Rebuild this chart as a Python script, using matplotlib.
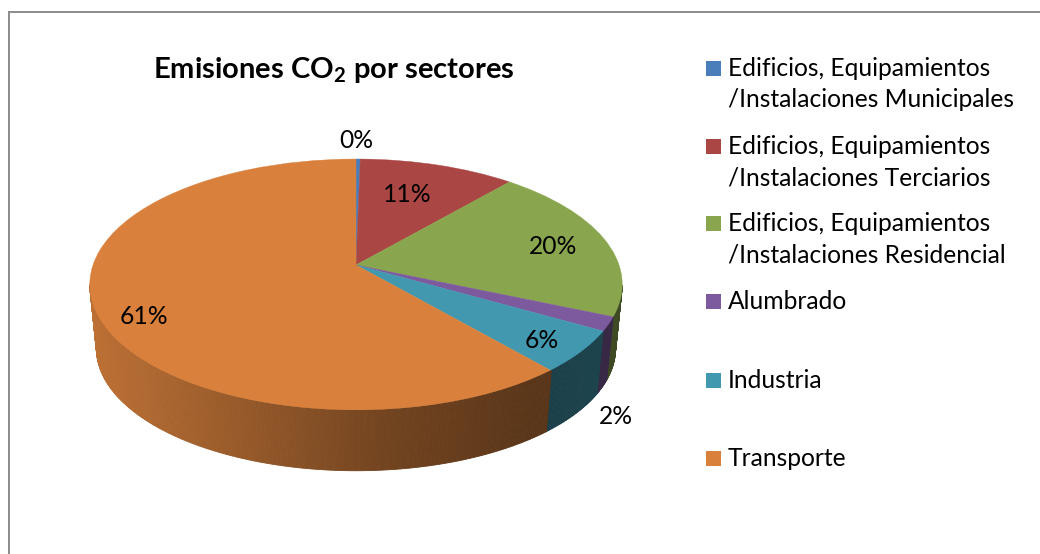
import numpy as np
import matplotlib
matplotlib.use("Agg")
import matplotlib.pyplot as plt
from matplotlib.path import Path
from matplotlib.patches import PathPatch, Rectangle
from matplotlib.collections import PolyCollection

plt.rcParams['font.family'] = ['Lato', 'DejaVu Sans']
plt.rcParams['mathtext.fontset'] = 'custom'
plt.rcParams['mathtext.rm'] = 'Lato'
plt.rcParams['mathtext.bf'] = 'Lato:bold'

sectors = ["Edificios, Equipamientos\n/Instalaciones Municipales",
           "Edificios, Equipamientos\n/Instalaciones Terciarios",
           "Edificios, Equipamientos\n/Instalaciones Residencial",
           "Alumbrado", "Industria", "Transporte"]
shares = [0.3, 11.0, 20.2, 1.8, 5.4, 61.3]
share_labels = ["0%", "11%", "20%", "2%", "6%", "61%"]
colors = ["#4A7EBB", "#AA4643", "#89A54E", "#7D5A9E", "#4198AF", "#D9813C"]

# perspective of the pie, in pixels
cx, cy = 356, 265
rx, ry, k = 263, 122.4, 0.155
depth = 64.5
shrink = 0.975

label_pos = [(356, 140), (407, 194), (553, 247), (616, 417), (542, 340), (144, 316)]
legend_y = [84, 162, 239.5, 301.5, 380.5, 458.5]


def project(u, v, drop=0.0, s=1.0):
    w = 1 + k * v
    return cx + s * rx * u / w, cy + drop - s * ry * v / w


def side_shade(x):
    return np.interp(x, [90, 380, 540, 620], [0.87, 0.53, 0.41, 0.45])


fig = plt.figure(figsize=(10.4, 5.54), dpi=100)
ax = fig.add_axes([0, 0, 1, 1])
wedges, _ = ax.pie(shares, colors=colors, startangle=90, counterclock=False)
ax.set_aspect('auto')
ax.set_xlim(0, 1040)
ax.set_ylim(554, 0)
ax.axis('off')

# chart frame, cut off by the picture on the right and at the bottom
ax.plot([9, 9, 1040], [554, 11.5, 11.5], color="#8A8A8A", lw=1.4, solid_joinstyle='miter')

for w, c in zip(wedges, colors):
    # side wall first, only the part facing us
    t = np.radians(np.arange(w.theta1, w.theta2 + 0.5, 0.5))
    t = t[np.sin(t) < -k]
    if len(t) > 1:
        x1, y1 = project(np.cos(t), np.sin(t))
        x2, y2 = project(np.cos(t), np.sin(t), depth, shrink)
        quads = [[(x1[i], y1[i]), (x1[i + 1], y1[i + 1]), (x2[i + 1], y2[i + 1]), (x2[i], y2[i])]
                 for i in range(len(t) - 1)]
        base = np.array(matplotlib.colors.to_rgb(c))
        cols = [tuple(base * side_shade(x1[i])) for i in range(len(t) - 1)]
        ax.add_collection(PolyCollection(quads, facecolors=cols, edgecolors=cols, linewidths=0.6))

for w, c in zip(wedges, colors):
    path = w.get_path()
    px, py = project(path.vertices[:, 0], path.vertices[:, 1])
    ax.add_patch(PathPatch(Path(np.column_stack([px, py]), path.codes), fc=c, ec=c, lw=0.3, zorder=3))
    w.remove()

for (x, y), s in zip(label_pos, share_labels):
    ax.text(x, y, s, ha='center', va='center', fontsize=17.7, color='black', zorder=5)

ax.text(334, 70, r"Emisiones CO$_{\mathbf{2}}$ por sectores", ha='center', va='center',
        fontsize=21, fontweight='bold', color='black')

for y, name, c in zip(legend_y, sectors, colors):
    first_line = y - 16 if "\n" in name else y
    ax.add_patch(Rectangle((706, first_line - 7.5), 15, 15, fc=c, ec='none'))
    ax.text(728, y, name, ha='left', va='center', fontsize=17.7, linespacing=1.43, color='black')

fig.savefig("out.png", dpi=100, facecolor='white')
